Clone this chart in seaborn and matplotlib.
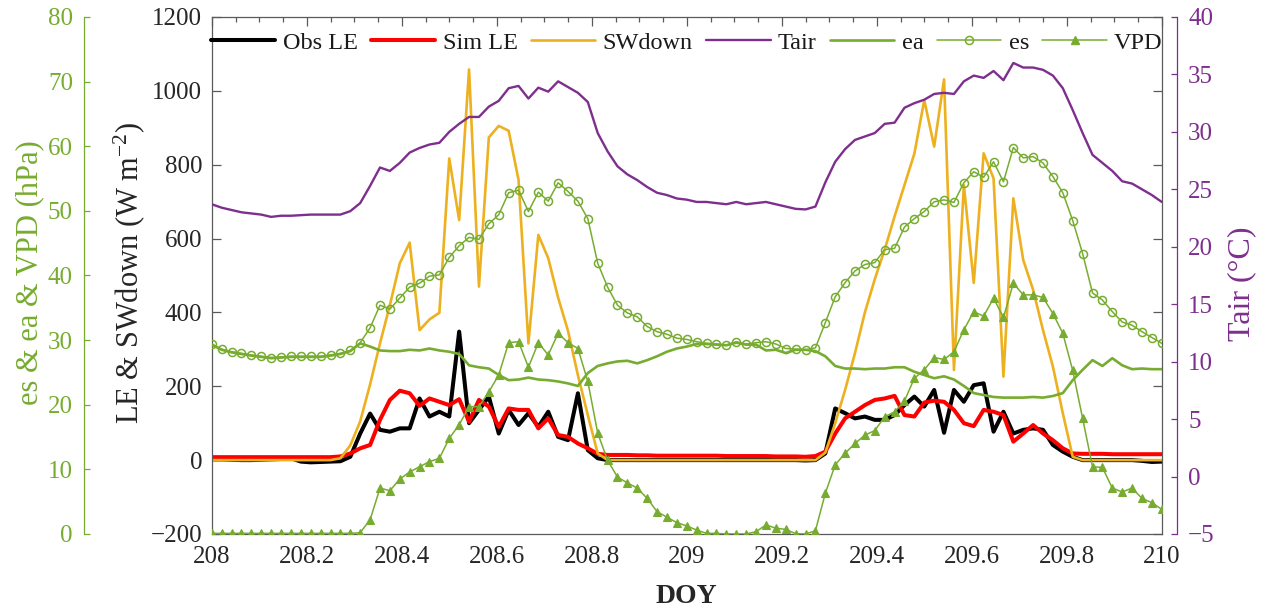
import numpy as np
import pandas as pd
import matplotlib
matplotlib.use("Agg")
import matplotlib.pyplot as plt
import seaborn as sns
from matplotlib.lines import Line2D
from matplotlib.ticker import MultipleLocator, FuncFormatter, AutoMinorLocator

# ---------------- data (half-hourly, DOY 208 - 210) ----------------
doy = np.linspace(208, 210, 97)

obs_le = [2, 2, 1, 0, 0, 1, 2, 3, 5, -4, -6, -5, -4,                # 0-12
          -3, 9, 72, 126, 82, 77, 86, 86, 167, 118, 131, 118,        # 13-24
          348, 100, 136, 172, 72, 136, 95, 127, 90, 131, 63, 54,     # 25-36
          181, 27, 5, 0,                                             # 37-40
          0, 0, 0, 0, 0, 0, 0, 0, 0, 0, 0, 0, 0, 0, 0, 0, 0, 0, 0, -1, 0,  # 41-61
          18, 140, 127, 113, 118, 109, 109, 122, 149, 172, 145, 190,  # 62-73
          74, 190, 158, 203, 208, 77, 131, 72, 82, 86, 82, 41,       # 74-85
          23, 9, 0, 0, 0, 0, 0, 0, -2, -5, -4]                       # 86-96

sim_le = [8, 8, 8, 8, 8, 8, 8, 8, 8, 8, 8, 8, 8,                      # 0-12
          10, 18, 32, 41, 109, 163, 188, 181, 147, 167, 158, 149,    # 13-24
          165, 104, 163, 145, 90, 140, 136, 136, 86, 113, 68, 63,    # 25-36
          45, 32, 17, 14,                                            # 37-40
          14, 14, 13, 13, 12, 12, 12, 12, 12, 12, 12, 11, 11, 11, 11, 11, 10, 10, 10, 9, 11,  # 41-61
          23, 72, 113, 131, 149, 163, 167, 174, 122, 118, 156, 161,  # 62-73
          158, 136, 100, 92, 136, 131, 122, 50, 72, 95, 72, 54,      # 74-85
          32, 18, 17, 17, 17, 16, 16, 16, 16, 16, 16]                # 86-96

swdown = [0, 0, 0, 0, 0, 0, 0, 0, 0, 0, 0, 0, 0,                      # 0-12
          5, 40, 105, 205, 316, 420, 533, 589, 352, 381, 399, 817,   # 13-24
          650, 1058, 470, 874, 905, 892, 759, 316, 610, 547, 440, 350,  # 25-36
          230, 122, 18, 0,                                           # 37-40
          0, 0, 0, 0, 0, 0, 0, 0, 0, 0, 0, 0, 0, 0, 0, 0, 0, 0, 0, 0, 0,  # 41-61
          20, 100, 190, 290, 400, 490, 570, 660, 745, 830, 975, 849,  # 62-73
          1031, 244, 745, 480, 831, 763, 226, 709, 542, 461, 352, 253,  # 74-85
          127, 9, 0, 0, 0, 0, 0, 0, 0, 0, 0]                         # 86-96

tair = [23.7, 23.4, 23.2, 23.0, 22.9, 22.8, 22.6, 22.7, 22.7, 22.75,   # 0-9
        22.8, 22.8, 22.8, 22.8, 23.1, 23.8, 25.3, 26.9, 26.6, 27.3,    # 10-19
        28.2, 28.6, 28.9, 29.05, 30.0, 30.7, 31.3, 31.3, 32.2, 32.7,   # 20-29
        33.8, 34.0, 32.9, 33.85, 33.5, 34.4, 33.9, 33.4, 32.6, 29.9,   # 30-39
        28.3, 27.0, 26.3, 25.8, 25.2, 24.7, 24.5, 24.2, 24.1, 23.9,    # 40-49
        23.9, 23.8, 23.7, 23.9, 23.7, 23.8, 23.9, 23.7, 23.5, 23.3,    # 50-59
        23.25, 23.5, 25.6, 27.4, 28.5, 29.3, 29.6, 29.9, 30.7, 30.8,   # 60-69
        32.1, 32.5, 32.8, 33.3, 33.4, 33.3, 34.4, 34.9, 34.7, 35.3,    # 70-79
        34.5, 36.0, 35.6, 35.6, 35.4, 34.9, 33.8, 31.9, 29.9, 28.0,    # 80-89
        27.3, 26.6, 25.7, 25.5, 25.0, 24.5, 23.9]                      # 90-96

ea = [29.3, 28.5, 28.1, 27.85, 27.6, 27.4, 27.2, 27.3, 27.4, 27.4,    # 0-9
      27.4, 27.4, 27.6, 27.85, 28.3, 29.5, 29.0, 28.4, 28.3, 28.3,    # 10-19
      28.5, 28.4, 28.7, 28.4, 28.2, 27.85, 26.1, 25.8, 25.6, 24.6,    # 20-29
      23.8, 23.9, 24.2, 23.9, 23.8, 23.6, 23.3, 22.9, 24.9, 26.0,     # 30-39
      26.4, 26.7, 26.8, 26.4, 26.9, 27.5, 28.2, 28.7, 29.0, 29.4,     # 40-49
      29.4, 29.3, 29.2, 29.6, 29.3, 29.3, 28.4, 28.5, 28.0, 28.5,     # 50-59
      28.5, 28.3, 27.5, 26.0, 25.6, 25.6, 25.5, 25.6, 25.6, 25.8,     # 60-69
      25.8, 25.1, 24.6, 24.1, 24.4, 23.9, 22.9, 21.8, 21.5, 21.2,     # 70-79
      21.1, 21.1, 21.1, 21.2, 21.1, 21.35, 21.8, 23.8, 25.4, 26.9,    # 80-89
      26.0, 27.2, 26.1, 25.5, 25.6, 25.5, 25.5]                       # 90-96

es = [29.4, 28.6, 28.2, 27.95, 27.7, 27.5, 27.3, 27.4, 27.5, 27.5,    # 0-9
      27.5, 27.5, 27.7, 27.95, 28.4, 29.6, 31.9, 35.4, 34.8, 36.5,    # 10-19
      38.2, 38.8, 39.9, 40.1, 42.8, 44.6, 45.9, 45.6, 48.0, 49.4,     # 20-29
      52.8, 53.2, 49.9, 52.9, 51.5, 54.35, 53.0, 51.5, 48.8, 41.9,    # 30-39
      38.2, 35.4, 34.2, 33.6, 32.1, 31.3, 30.9, 30.3, 30.1, 29.75,    # 40-49
      29.5, 29.4, 29.2, 29.75, 29.4, 29.6, 29.75, 29.4, 28.7, 28.6,   # 50-59
      28.5, 28.8, 32.7, 36.7, 38.9, 40.7, 41.7, 42.0, 44.0, 44.2,     # 60-69
      47.5, 48.8, 49.9, 51.4, 51.7, 51.3, 54.35, 56.05, 55.2, 57.6,   # 70-79
      54.5, 59.8, 58.2, 58.4, 57.4, 55.3, 52.8, 48.5, 43.4, 37.3,     # 80-89
      36.2, 34.4, 32.8, 32.3, 31.3, 30.4, 29.5]                       # 90-96

vpd = [0.1, 0.1, 0.1, 0.1, 0.1, 0.1, 0.1, 0.1, 0.1, 0.1,              # 0-9
       0.1, 0.1, 0.1, 0.1, 0.1, 0.2, 2.2, 7.1, 6.7, 8.5,              # 10-19
       9.6, 10.4, 11.2, 11.7, 14.8, 16.9, 19.7, 19.7, 22.0, 24.6,     # 20-29
       29.6, 29.75, 25.8, 29.6, 27.7, 31.05, 29.6, 28.7, 23.6, 15.6,  # 30-39
       11.4, 8.8, 7.9, 7.1, 5.5, 3.45, 2.6, 1.75, 1.25, 0.6,          # 40-49
       0.1, 0.1, 0.0, 0.0, 0.0, 0.35, 1.4, 0.9, 0.7, 0.05,            # 50-59
       0.0, 0.5, 6.3, 10.7, 12.5, 14.0, 15.3, 16.0, 18.15, 18.9,      # 60-69
       20.6, 24.1, 25.4, 27.3, 27.0, 28.2, 31.6, 34.4, 33.7, 36.5,    # 70-79
       33.5, 38.8, 37.0, 37.0, 36.6, 34.1, 31.05, 25.3, 17.9, 10.4,   # 80-89
       10.3, 7.1, 6.5, 7.1, 5.5, 4.85, 3.8]                           # 90-96

df = pd.DataFrame({"DOY": doy, "Obs LE": obs_le, "Sim LE": sim_le,
                   "SWdown": swdown, "Tair": tair, "ea": ea, "es": es, "VPD": vpd})

# ---------------- style ----------------
sns.set_style("white")
plt.rcParams["font.family"] = ["Liberation Serif", "DejaVu Serif"]
plt.rcParams["mathtext.fontset"] = "custom"
plt.rcParams["mathtext.rm"] = "Liberation Serif"
plt.rcParams["mathtext.it"] = "Liberation Serif:italic"

GREEN = "#77AC30"
ORANGE = "#EDB120"
PURPLE = "#7E2F8E"
RED = "#FF0000"
AXC = "#5a5a5a"
TXT = "#262626"
TICK_FS = 18
LAB_FS = 22

fig = plt.figure(figsize=(12.65, 6.09), dpi=100)
ax = fig.add_axes([0.1674, 0.1232, 0.7510, 0.8489])
ax_t = ax.twinx()
ax_h = ax.twinx()

# LE & SWdown axis
sns.lineplot(data=df, x="DOY", y="Obs LE", ax=ax, color="black", linewidth=2.9, legend=False)
sns.lineplot(data=df, x="DOY", y="Sim LE", ax=ax, color=RED, linewidth=2.9, legend=False)
sns.lineplot(data=df, x="DOY", y="SWdown", ax=ax, color=ORANGE, linewidth=1.9, legend=False)
# Tair axis
sns.lineplot(data=df, x="DOY", y="Tair", ax=ax_t, color=PURPLE, linewidth=1.7, legend=False)
# hPa axis
sns.lineplot(data=df, x="DOY", y="ea", ax=ax_h, color=GREEN, linewidth=1.9, legend=False)
sns.lineplot(data=df, x="DOY", y="es", ax=ax_h, color=GREEN, linewidth=1.1, legend=False,
             marker="o", markersize=5.8, markerfacecolor="none", markeredgecolor=GREEN,
             markeredgewidth=1.1)
sns.lineplot(data=df, x="DOY", y="VPD", ax=ax_h, color=GREEN, linewidth=1.1, legend=False,
             marker="^", markersize=6.2, markerfacecolor=GREEN, markeredgecolor=GREEN,
             markeredgewidth=0.8)

# ---------------- main axis ----------------
ax.set_xlim(208, 210)
ax.set_ylim(-200, 1200)
ax.xaxis.set_major_locator(MultipleLocator(0.2))
ax.xaxis.set_minor_locator(AutoMinorLocator(4))
ax.xaxis.set_major_formatter(FuncFormatter(lambda v, p: f"{v:g}"))
ax.yaxis.set_major_locator(MultipleLocator(200))
for s in ax.spines.values():
    s.set_color(AXC)
    s.set_linewidth(0.9)
ax.tick_params(axis="both", which="both", direction="in", top=True, right=True,
               color=AXC, labelcolor=TXT, labelsize=TICK_FS, width=0.9)
ax.tick_params(axis="both", which="major", length=6.5)
ax.tick_params(axis="x", which="minor", length=3.5)
ax.tick_params(axis="x", pad=9)
ax.tick_params(axis="y", pad=7)
ax.set_xlabel("DOY", fontsize=20, fontweight="bold", color=TXT)
ax.xaxis.set_label_coords(0.5, -0.097)
ax.set_ylabel("LE & SWdown (W m$\\mathregular{^{-2}}$)", fontsize=LAB_FS, color=TXT)
ax.yaxis.set_label_coords(-0.068, 0.505)

# ---------------- Tair axis ----------------
ax_t.set_ylim(-5, 40)
ax_t.yaxis.set_major_locator(MultipleLocator(5))
for k in ["left", "top", "bottom"]:
    ax_t.spines[k].set_visible(False)
ax_t.spines["right"].set_position(("axes", 1.0161))
ax_t.spines["right"].set_color(PURPLE)
ax_t.spines["right"].set_linewidth(0.9)
ax_t.tick_params(axis="y", direction="in", length=4, width=0.9, color=PURPLE,
                 labelcolor=PURPLE, labelsize=TICK_FS, pad=8)
ax_t.set_ylabel("Tair (°C)", fontsize=23, color=PURPLE)
ax_t.yaxis.set_label_coords(1.0687, 0.484)

# ---------------- hPa axis ----------------
ax_h.set_ylim(0, 80)
ax_h.yaxis.set_major_locator(MultipleLocator(10))
for k in ["right", "top", "bottom"]:
    ax_h.spines[k].set_visible(False)
ax_h.spines["left"].set_visible(True)
ax_h.spines["left"].set_position(("axes", -0.1344))
ax_h.spines["left"].set_color(GREEN)
ax_h.spines["left"].set_linewidth(0.9)
ax_h.yaxis.set_ticks_position("left")
ax_h.yaxis.set_label_position("left")
ax_h.tick_params(axis="y", direction="in", length=4, width=0.9, color=GREEN,
                 labelcolor=GREEN, labelsize=TICK_FS, pad=8)
ax_h.set_ylabel("es & ea & VPD (hPa)", fontsize=LAB_FS, color=GREEN)
ax_h.yaxis.set_label_coords(-0.176, 0.505)
ax_h.set_xlabel("")

# ---------------- legend ----------------
handles = [
    Line2D([], [], color="black", lw=2.9),
    Line2D([], [], color=RED, lw=2.9),
    Line2D([], [], color=ORANGE, lw=1.9),
    Line2D([], [], color=PURPLE, lw=1.7),
    Line2D([], [], color=GREEN, lw=1.9),
    Line2D([], [], color=GREEN, lw=1.1, marker="o", markersize=5.8,
           markerfacecolor="none", markeredgecolor=GREEN, markeredgewidth=1.1),
    Line2D([], [], color=GREEN, lw=1.1, marker="^", markersize=6.2,
           markerfacecolor=GREEN, markeredgecolor=GREEN),
]
labels = ["Obs LE", "Sim LE", "SWdown", "Tair", "ea", "es", "VPD"]
leg = ax_h.legend(handles, labels, loc="center", bbox_to_anchor=(0.5, 0.950),
                  bbox_transform=ax.transAxes, ncol=7, frameon=False,
                  fontsize=17.5, handlelength=2.65, handletextpad=0.3,
                  columnspacing=0.55, borderpad=0, borderaxespad=0, numpoints=1)
for t in leg.get_texts():
    t.set_color("#1a1a1a")

fig.savefig("out.png", dpi=100)
